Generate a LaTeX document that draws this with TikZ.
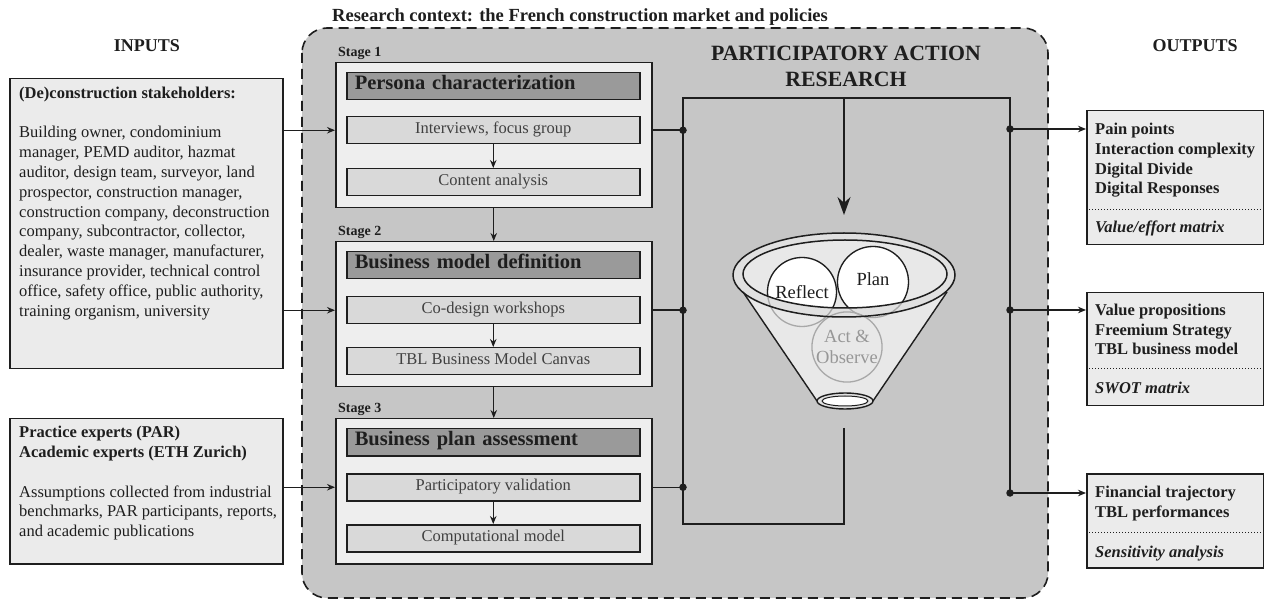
\documentclass[tikz,border=0pt]{standalone}
\usepackage{fontspec}
\setmainfont{Liberation Serif}
\usetikzlibrary{arrows.meta,calc}
\definecolor{cont}{HTML}{C6C6C6}
\definecolor{boxbg}{HTML}{EBEBEB}
\definecolor{stagebg}{HTML}{EEEEEE}
\definecolor{headbg}{HTML}{9A9A9A}
\definecolor{subbg}{HTML}{D9D9D9}
\definecolor{ink}{HTML}{1E1E1E}
\definecolor{conefill}{HTML}{E8E8E8}
\definecolor{rimfill}{HTML}{E0E0E0}
\definecolor{ghost}{HTML}{A8A8A8}
\newcommand{\fsz}[2]{\fontsize{#1}{#2}\selectfont}
\tikzset{
  inbox/.style={draw=ink, line width=1.5pt, fill=boxbg, inner sep=0pt, anchor=north west},
  stagebox/.style={draw=ink, line width=1.5pt, fill=stagebg, inner sep=0pt, anchor=north west, minimum width=316pt, minimum height=145pt},
  headbox/.style={draw=ink, line width=1.5pt, fill=headbg, anchor=north west, minimum width=293pt, minimum height=27pt, inner sep=0pt, text width=277pt, align=left, font=\fsz{20.5}{24}\bfseries, text height=0.75em, text depth=0.12em, text=ink},
  subbox/.style={draw=ink, line width=1.5pt, fill=subbg, anchor=north west, minimum width=293pt, minimum height=27pt, inner sep=0pt, font=\fsz{16.5}{20}, text height=0.8em, text depth=0.07em, text=ink!85},
  arr/.style={-{Stealth[length=8pt,width=6.5pt]}, line width=1.3pt, draw=ink},
  ln/.style={line width=1.5pt, draw=ink},
  jdot/.style={circle, fill=ink, inner sep=0pt, minimum size=7.5pt},
  body/.style={inner sep=0pt, align=left, font=\fsz{16.5}{19.8}, text=ink},
  bodyb/.style={inner sep=0pt, align=left, font=\fsz{16.5}{19.8}\bfseries, text=ink},
  stagelbl/.style={inner sep=0pt, anchor=base west, font=\fsz{14}{16}\bfseries, text=ink},
  outbox/.style={draw=ink, line width=1.5pt, fill=boxbg, inner sep=0pt, anchor=north west, minimum width=177pt},
}
\begin{document}
\begin{tikzpicture}[x=1pt,y=-1pt]
\useasboundingbox (0,0) rectangle (1264,601);
% research context container
\node[inner sep=0pt, anchor=base west, font=\fsz{18.5}{22}\bfseries, text=ink] (ctx) at (332,22) {Research context: the French construction market and policies};
\draw[draw=ink, fill=cont, line width=1.6pt, dash pattern=on 10pt off 6pt, rounded corners=25pt] (302,28) rectangle (1048,598);
\node[inner sep=0pt, anchor=base, font=\fsz{18}{22}\bfseries, text=ink] (inputs) at (147,52) {INPUTS};
\node[inner sep=0pt, anchor=base, font=\fsz{18}{22}\bfseries, text=ink] (outputs) at (1195,52) {OUTPUTS};
\node[inner sep=0pt, anchor=base, align=center, font=\fsz{21.8}{26}\bfseries, text=ink] (partitle) at (846,87) {PARTICIPATORY ACTION\\RESEARCH};

% inputs
\node[inbox, minimum width=273pt, minimum height=290pt] (in1) at (9,78) {};
\node[bodyb, anchor=base west] (in1h) at (19,99) {(De)construction stakeholders:};
\node[body, anchor=base west] (in1t) at (19,316.2) {Building owner, condominium\\manager, PEMD auditor, hazmat\\auditor, design team, surveyor, land\\prospector, construction manager,\\construction company, deconstruction\\company, subcontractor, collector,\\dealer, waste manager, manufacturer,\\insurance provider, technical control\\office, safety office, public authority,\\training organism, university};
\node[inbox, minimum width=273pt, minimum height=145pt] (in2) at (9,418) {};
\node[bodyb, anchor=base west] (in2h) at (19,457) {Practice experts (PAR)\\Academic experts (ETH Zurich)};
\node[body, anchor=base west] (in2t) at (19,536.6) {Assumptions collected from industrial\\benchmarks, PAR participants, reports,\\and academic publications};

% stages
\node[stagelbl] (l1) at (338,57) {Stage 1};
\node[stagebox] (s1) at (335,62) {};
\node[headbox] (h1) at (346,72) {Persona characterization};
\node[subbox] (s1a) at (346,116) {Interviews, focus group};
\node[subbox] (s1b) at (346,168) {Content analysis};
\draw[arr] (s1a.south) -- (s1b.north);

\node[stagelbl] (l2) at (338,236) {Stage 2};
\node[stagebox] (s2) at (335,241) {};
\node[headbox] (h2) at (346,251) {Business model definition};
\node[subbox] (s2a) at (346,296) {Co-design workshops};
\node[subbox] (s2b) at (346,347) {TBL Business Model Canvas};
\draw[arr] (s2a.south) -- (s2b.north);

\node[stagelbl] (l3) at (338,413) {Stage 3};
\node[stagebox] (s3) at (335,418) {};
\node[headbox] (h3) at (346,428) {Business plan assessment};
\node[subbox] (s3a) at (346,473) {Participatory validation};
\node[subbox] (s3b) at (346,524) {Computational model};
\draw[arr] (s3a.south) -- (s3b.north);

\draw[arr] (s1.south) -- (s2.north);
\draw[arr] (s2.south) -- (s3.north);

% input arrows
\draw[arr] (in1.east |- s1a.center) -- (s1.west |- s1a.center);
\draw[arr] (in1.east |- s2a.center) -- (s2.west |- s2a.center);
\draw[arr] (in2.east |- s3a.center) -- (s3.west |- s3a.center);

% PAR frame
\coordinate (ptl) at (683,98);
\coordinate (ptm) at (844,98);
\coordinate (ptr) at (1010,98);
\coordinate (pbl) at (683,524);
\coordinate (pbm) at (844,524);
\coordinate (pbmt) at (844,428);
\coordinate (prb) at (1010,493);
\coordinate (ftip) at (844,215);
\draw[ln, line join=miter] (pbmt) -- (pbm) -- (pbl) -- (ptl) -- (ptr) -- (prb);
\draw[ln, -{Stealth[length=18pt,width=13pt]}] (ptm) -- (ftip);

\node[jdot] (j1) at (ptl |- s1a.center) {};
\node[jdot] (j2) at (ptl |- s2a.center) {};
\node[jdot] (j3) at (ptl |- s3a.center) {};
\draw[ln] (s1.east |- s1a.center) -- (j1.center);
\draw[ln] (s2.east |- s2a.center) -- (j2.center);
\draw[ln] (s3.east |- s3a.center) -- (j3.center);

% outputs
\node[outbox, minimum height=134pt] (out1) at (1086,110) {};
\node[outbox, minimum height=113pt] (out2) at (1086,292) {};
\node[outbox, minimum height=94pt] (out3) at (1086,473) {};
\node[jdot] (k1) at (1010,129) {};
\node[jdot] (k2) at (1010,310) {};
\node[jdot] (k3) at (prb) {};
\draw[arr] (k1.center) -- (out1.west |- k1.center);
\draw[arr] (k2.center) -- (out2.west |- k2.center);
\draw[arr] (k3.center) -- (out3.west |- k3.center);

\node[bodyb, anchor=base west] (o1t) at (1095,194) {Pain points\\Interaction complexity\\Digital Divide\\Digital Responses};
\draw[ink, line width=1pt, dotted] (out1.west |- 0,210) -- (out1.east |- 0,210);
\node[bodyb, anchor=base west, font=\fsz{16.5}{19.8}\bfseries\itshape] (o1i) at (1095,233) {Value/effort matrix};

\node[bodyb, anchor=base west] (o2t) at (1095,355) {Value propositions\\Freemium Strategy\\TBL business model};
\draw[ink, line width=1pt, dotted] (out2.west |- 0,369) -- (out2.east |- 0,369);
\node[bodyb, anchor=base west, font=\fsz{16.5}{19.8}\bfseries\itshape] (o2i) at (1095,394) {SWOT matrix};

\node[bodyb, anchor=base west] (o3t) at (1095,517) {Financial trajectory\\TBL performances};
\draw[ink, line width=1pt, dotted] (out3.west |- 0,532) -- (out3.east |- 0,532);
\node[bodyb, anchor=base west, font=\fsz{16.5}{19.8}\bfseries\itshape] (o3i) at (1095,557) {Sensitivity analysis};

% funnel
\fill[conefill] (743,292) -- (817,401) -- (873,401) -- (947,292) -- cycle;
\fill[rimfill] (844,275) ellipse [x radius=111, y radius=42];
\fill[conefill] (845,274) ellipse [x radius=102, y radius=34];
\draw[ghost, line width=1.3pt] (802,292) circle [radius=34.5];
\draw[ghost, line width=1.3pt] (873,282) circle [radius=35.5];
\node[circle, draw=ghost, line width=1.3pt, minimum size=70pt, inner sep=0pt, align=center, font=\fsz{18.5}{21}, text=ghost!90!black] (act) at (847,347) {Act \&\\Observe};
\draw[ink, line width=1.4pt] (743,292) -- (817,401);
\draw[ink, line width=1.4pt] (947,292) -- (873,401);
\draw[ink, line width=1.4pt, fill=rimfill] (845,401) ellipse [x radius=28, y radius=8];
\draw[ink, line width=1pt, fill=white] (845,401) ellipse [x radius=23, y radius=5];
\draw[ink, line width=1.5pt] (844,275) ellipse [x radius=111, y radius=42];
\begin{scope}
\clip (845,274) ellipse [x radius=102, y radius=34];
\node[circle, draw=ink, line width=1.3pt, fill=white, minimum size=69pt, inner sep=0pt, font=\fsz{18.5}{21}, text=ink] (refl) at (802,292) {Reflect};
\node[circle, draw=ink, line width=1.3pt, fill=white, minimum size=71pt, inner sep=0pt, font=\fsz{18.5}{21}, text=ink] (plan) at (873,282) {\raisebox{6pt}{Plan}};
\end{scope}
\draw[ink, line width=1.5pt] (845,274) ellipse [x radius=102, y radius=34];
\end{tikzpicture}
\end{document}
